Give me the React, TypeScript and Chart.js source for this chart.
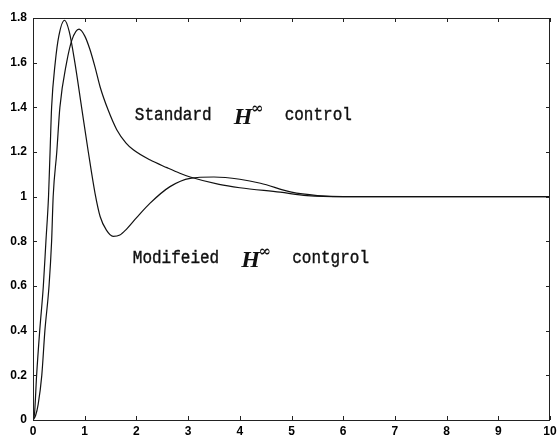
import React, { useEffect, useRef } from "react";
import { Chart, registerables } from "chart.js";

Chart.register(...registerables);

// Modified H-infinity control response
const modifiedTimes = [0, 0.03, 0.07, 0.13, 0.2, 0.25, 0.3, 0.33, 0.36, 0.43, 0.5, 0.61, 0.7, 0.81, 0.94, 1.07, 1.2, 1.3, 1.42, 1.55, 1.68, 1.81, 2.0, 2.26, 2.65, 3.04, 3.5, 4.0, 4.4, 5.0, 5.5, 6, 7, 8, 9, 10];
const modifiedValues = [0, 0.03, 0.2, 0.4, 0.6, 0.8, 1.0, 1.2, 1.4, 1.6, 1.72, 1.79, 1.74, 1.6, 1.4, 1.2, 1.015, 0.91, 0.85, 0.822, 0.828, 0.855, 0.905, 0.97, 1.045, 1.082, 1.088, 1.078, 1.06, 1.02, 1.005, 1.0, 1.0, 1.0, 1.0, 1.0];

// Standard H-infinity control response
const standardTimes = [0, 0.05, 0.1, 0.17, 0.23, 0.31, 0.36, 0.39, 0.46, 0.52, 0.65, 0.75, 0.89, 1.0, 1.1, 1.2, 1.3, 1.45, 1.62, 1.8, 1.94, 2.26, 2.59, 2.84, 3.04, 3.6, 4.0, 4.78, 5.3, 6, 7, 8, 9, 10];
const standardValues = [0, 0.02, 0.07, 0.2, 0.4, 0.6, 0.8, 1.0, 1.2, 1.4, 1.6, 1.7, 1.75, 1.72, 1.66, 1.58, 1.49, 1.39, 1.3, 1.24, 1.21, 1.165, 1.13, 1.105, 1.088, 1.055, 1.04, 1.02, 1.005, 1.0, 1.0, 1.0, 1.0, 1.0];

const xTickValues = [0, 1, 2, 3, 4, 5, 6, 7, 8, 9, 10];
const yTickValues = [0, 0.2, 0.4, 0.6, 0.8, 1, 1.2, 1.4, 1.6, 1.8];

const annotations = [
  { pre: "Standard", post: "control", t: 1.97, v: 1.343 },
  { pre: "Modifeied", post: "contgrol", t: 1.93, v: 0.703 },
];

const framePlugin = {
  id: "frame",
  afterDraw(chart: any) {
    const { ctx, chartArea: a, scales } = chart;
    const xs = scales.x;
    const ys = scales.y;
    ctx.save();
    ctx.strokeStyle = "#222";
    ctx.lineWidth = 1;
    ctx.strokeRect(a.left + 0.5, a.top + 0.5, a.right - a.left - 1, a.bottom - a.top);
    ctx.beginPath();
    const L = 4;
    xTickValues.forEach((v) => {
      const px = Math.round(xs.getPixelForValue(v)) + 0.5;
      ctx.moveTo(px, a.bottom);
      ctx.lineTo(px, a.bottom - L);
      ctx.moveTo(px, a.top);
      ctx.lineTo(px, a.top + L);
    });
    yTickValues.forEach((v) => {
      const py = Math.round(ys.getPixelForValue(v)) + 0.5;
      ctx.moveTo(a.left, py);
      ctx.lineTo(a.left + L, py);
      ctx.moveTo(a.right, py);
      ctx.lineTo(a.right - L, py);
    });
    ctx.stroke();

    // annotations
    ctx.fillStyle = "#111";
    ctx.strokeStyle = "#111";
    ctx.lineWidth = 0.35;
    ctx.textBaseline = "alphabetic";
    annotations.forEach((an) => {
      const x = xs.getPixelForValue(an.t);
      const y = ys.getPixelForValue(an.v);
      ctx.save();
      ctx.translate(x, y);
      ctx.scale(1, 1.2);
      ctx.font = "16px 'Liberation Mono'";
      ctx.fillText(an.pre, 0, 0);
      ctx.strokeText(an.pre, 0, 0);
      const preW = ctx.measureText(an.pre).width;
      ctx.restore();
      const hx = x + preW + 22;
      ctx.font = "italic bold 24px 'Liberation Serif'";
      ctx.fillText("H", hx, y + 4);
      const hW = ctx.measureText("H").width;
      ctx.font = "bold 15px 'DejaVu Serif'";
      ctx.fillText("\u221E", hx + hW - 1, y - 7);
      ctx.save();
      ctx.translate(hx + 51, y);
      ctx.scale(1, 1.2);
      ctx.font = "16px 'Liberation Mono'";
      ctx.fillText(an.post, 0, 0);
      ctx.strokeText(an.post, 0, 0);
      ctx.restore();
    });
    ctx.restore();
  },
};

export default function App() {
  const ref = useRef<HTMLCanvasElement>(null);
  useEffect(() => {
    const chart = new Chart(ref.current as HTMLCanvasElement, {
      type: "line",
      data: {
        datasets: [
          {
            label: "Modified",
            data: modifiedTimes.map((t, i) => ({ x: t, y: modifiedValues[i] })),
            borderColor: "#111",
            borderWidth: 1.2,
            pointRadius: 0,
            cubicInterpolationMode: "monotone",
            fill: false,
          },
          {
            label: "Standard",
            data: standardTimes.map((t, i) => ({ x: t, y: standardValues[i] })),
            borderColor: "#111",
            borderWidth: 1.2,
            pointRadius: 0,
            cubicInterpolationMode: "monotone",
            fill: false,
          },
        ],
      },
      options: {
        animation: false,
        responsive: false,
        devicePixelRatio: 1,
        layout: { padding: { top: 18, right: 8, left: 0, bottom: 0 } },
        plugins: { legend: { display: false }, tooltip: { enabled: false } },
        scales: {
          x: {
            type: "linear",
            min: 0,
            max: 10,
            afterBuildTicks: (s: any) => {
              s.ticks = xTickValues.map((v) => ({ value: v }));
            },
            afterFit: (s: any) => {
              s.height = 17;
              s.paddingLeft = 0;
              s.paddingRight = 0;
            },
            grid: { display: false, drawTicks: false },
            border: { display: false },
            ticks: {
              padding: 4,
              color: "#000",
              font: { family: "'Liberation Sans'", size: 12, weight: "bold" },
              maxRotation: 0,
              autoSkip: false,
              callback: (v: any) => String(v),
            },
          },
          y: {
            type: "linear",
            min: 0,
            max: 1.8,
            afterBuildTicks: (s: any) => {
              s.ticks = yTickValues.map((v) => ({ value: v }));
            },
            afterFit: (s: any) => {
              s.width = 33;
              s.paddingTop = 0;
              s.paddingBottom = 0;
            },
            grid: { display: false, drawTicks: false },
            border: { display: false },
            ticks: {
              padding: 6,
              color: "#000",
              font: { family: "'Liberation Sans'", size: 12, weight: "bold" },
              autoSkip: false,
              callback: (v: any) => String(Math.round(Number(v) * 10) / 10),
            },
          },
        },
      },
      plugins: [framePlugin],
    } as any);
    return () => chart.destroy();
  }, []);
  return (
    <div style={{ position: "fixed", left: 0, top: 0, width: 558, height: 437, background: "#fff" }}>
      <canvas ref={ref} width={558} height={437} style={{ display: "block", width: 558, height: 437 }} />
    </div>
  );
}
